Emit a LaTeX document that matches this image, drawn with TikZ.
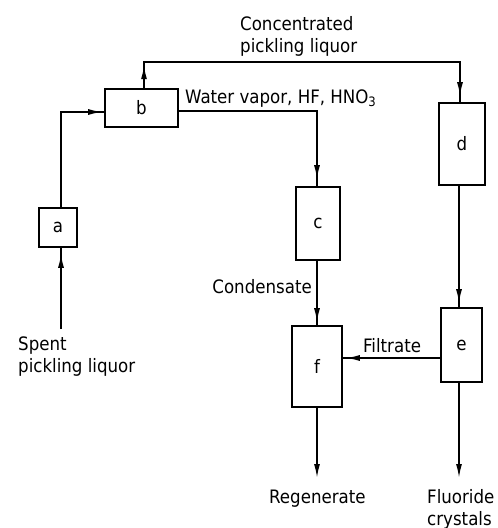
\documentclass[tikz,border=0pt]{standalone}
\usepackage{fontspec}
\setmainfont{DejaVu Sans Condensed}
\usetikzlibrary{arrows.meta,decorations.markings}
\begin{document}
\begin{tikzpicture}[x=1pt,y=-1pt,
  txt/.style={font=\fontsize{18.5}{22}\selectfont},
  box/.style={draw,line width=1.6pt,inner sep=0pt,txt},
  lbl/.style={inner sep=0pt,txt},
  flow/.style={line width=1.6pt},
  tip/.style={-{Latex[length=14pt,width=6pt]}},
  tipat/.style={postaction={decorate},decoration={markings,
     mark=at position #1 with {\arrow{Latex[length=14pt,width=6pt]}}}},
  tiptwo/.style 2 args={postaction={decorate},decoration={markings,
     mark=at position #1 with {\arrow{Latex[length=14pt,width=6pt]}},
     mark=at position #2 with {\arrow{Latex[length=14pt,width=6pt]}}}},
]
\useasboundingbox (0,0) rectangle (498,528);

% boxes
\node[box,minimum width=38pt,minimum height=39pt] (a) at (58,227.5) {a};
\node[box,minimum width=73pt,minimum height=38pt] (b) at (141.5,108) {b};
\node[box,minimum width=44pt,minimum height=73pt] (c) at (318,223.5) {c};
\node[box,minimum width=46pt,minimum height=82pt] (d) at (462,144) {d};
\node[box,minimum width=41pt,minimum height=74pt] (e) at (461.5,345) {e};
\node[box,minimum width=50pt,minimum height=81pt] (f) at (317,366.5) {f};

% labels (base anchor of a multi-line node is its last line)
\node[lbl,anchor=base west,align=left] (spent) at (18,372) {Spent\\pickling liquor};
\node[lbl,anchor=base west,align=left] (conc) at (240,52) {Concentrated\\pickling liquor};
\node[lbl,anchor=base west] (vap) at (185,103) {Water vapor, HF, HNO\textsubscript{3}};
\node[lbl,anchor=base east] (cond) at (312,293) {Condensate};
\node[lbl,anchor=base west] (filt) at (363,352) {Filtrate};
\node[lbl,anchor=base west] (regen) at (269,503) {Regenerate};
\node[lbl,anchor=base west,align=left] (fluor) at (427,525) {Fluoride\\crystals};

\coordinate (sp) at (61,329);
\coordinate (regend) at (317,478);
\coordinate (fluend) at (459,478);

% connectors
\draw[flow,tipat=-6pt] (sp) -- (sp |- a.south);
\draw[flow,tipat=-2pt] ([xshift=3pt]a.north) |- ([yshift=-4pt]b.west);
\draw[flow,tiptwo={23pt}{-6pt}] ([xshift=2.5pt]b.north)
   -- ([xshift=2.5pt]b.north |- 0,62) -| ([xshift=-2pt]d.north);
\draw[flow,tipat=-7pt] ([yshift=-3pt]b.east) -| ([xshift=-1pt]c.north);
\draw[flow,tipat=-3pt] ([xshift=-1pt]c.south) -- ([xshift=-1pt]c.south |- f.north);
\draw[flow,tipat=-4pt] ([xshift=-3pt]d.south) -- ([xshift=-3pt]d.south |- e.north);
\draw[flow,tipat=-3pt] ([yshift=-13pt]e.west) -- (f.east |- 0,358);
\draw[flow,tip] (f.south) -- (regend);
\draw[flow,tip] (e.south -| fluend) -- (fluend);
\end{tikzpicture}
\end{document}
